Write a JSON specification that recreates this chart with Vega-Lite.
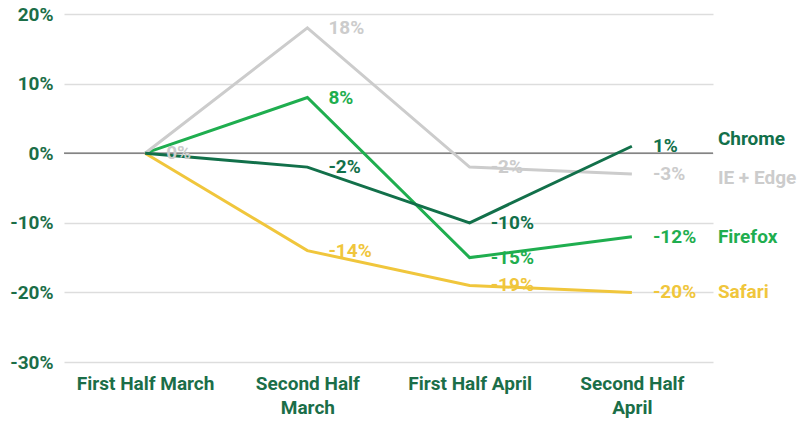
{
  "$schema": "https://vega.github.io/schema/vega-lite/v6.json",
  "width": 649,
  "height": 348,
  "autosize": "none",
  "padding": {"left": 64, "top": 14, "right": 93, "bottom": 61},
  "background": "white",
  "config": {
    "view": {"stroke": null},
    "font": "Roboto",
    "axis": {"labelFont": "Roboto", "labelFontWeight": "bold", "labelFontSize": 19, "labelColor": "#1b6e48"}
  },
  "datasets": {
    "main": [
      {"series": "Chrome", "period": "First Half March", "value": 0},
      {"series": "Chrome", "period": "Second Half March", "value": -2},
      {"series": "Chrome", "period": "First Half April", "value": -10},
      {"series": "Chrome", "period": "Second Half April", "value": 1},
      {"series": "Firefox", "period": "First Half March", "value": 0},
      {"series": "Firefox", "period": "Second Half March", "value": 8},
      {"series": "Firefox", "period": "First Half April", "value": -15},
      {"series": "Firefox", "period": "Second Half April", "value": -12},
      {"series": "IE + Edge", "period": "First Half March", "value": 0},
      {"series": "IE + Edge", "period": "Second Half March", "value": 18},
      {"series": "IE + Edge", "period": "First Half April", "value": -2},
      {"series": "IE + Edge", "period": "Second Half April", "value": -3},
      {"series": "Safari", "period": "First Half March", "value": 0},
      {"series": "Safari", "period": "Second Half March", "value": -14},
      {"series": "Safari", "period": "First Half April", "value": -19},
      {"series": "Safari", "period": "Second Half April", "value": -20}
    ],
    "names": [
      {"series": "Chrome", "period": "Second Half April", "value": 2},
      {"series": "IE + Edge", "period": "Second Half April", "value": -3.5},
      {"series": "Firefox", "period": "Second Half April", "value": -12},
      {"series": "Safari", "period": "Second Half April", "value": -20}
    ]
  },
  "encoding": {
    "x": {
      "field": "period", "type": "ordinal",
      "sort": ["First Half March", "Second Half March", "First Half April", "Second Half April"],
      "scale": {"type": "point", "padding": 0.5},
      "axis": {
        "title": null, "domain": false, "ticks": false, "grid": false, "labelAngle": 0,
        "labelPadding": 12, "labelLineHeight": 24,
        "labelExpr": "datum.value == 'Second Half March' ? ['Second Half', 'March'] : datum.value == 'Second Half April' ? ['Second Half', 'April'] : datum.value"
      }
    },
    "y": {
      "field": "value", "type": "quantitative",
      "scale": {"domain": [-30, 20], "nice": false},
      "axis": {
        "title": null, "domain": false, "ticks": false, "values": [-30, -20, -10, 0, 10, 20],
        "gridColor": "#dddddd", "gridWidth": 1.5, "labelPadding": 11,
        "labelExpr": "datum.value + '%'"
      }
    },
    "color": {
      "field": "series", "type": "nominal",
      "scale": {"domain": ["Chrome", "Firefox", "IE + Edge", "Safari"], "range": ["#12704a", "#1fae4f", "#cccccc", "#f0c63c"]},
      "legend": null
    }
  },
  "layer": [
    {
      "data": {"values": [{"z": 0}]},
      "mark": {"type": "rule", "color": "#666666", "strokeWidth": 1.2},
      "encoding": {"y": {"field": "z", "type": "quantitative"}, "x": null, "color": null}
    },
    {
      "data": {"name": "main"},
      "transform": [{"filter": "datum.series != 'Chrome'"}],
      "mark": {"type": "line", "strokeWidth": 3}
    },
    {
      "data": {"name": "main"},
      "transform": [{"filter": "datum.series == 'Chrome'"}],
      "mark": {"type": "line", "strokeWidth": 3}
    },
    {
      "data": {"name": "main"},
      "transform": [
        {"filter": "datum.period != 'First Half March' || datum.series == 'IE + Edge'"},
        {"calculate": "datum.value + '%'", "as": "label"}
      ],
      "mark": {"type": "text", "align": "left", "baseline": "middle", "dx": 21, "fontSize": 19, "fontWeight": "bold", "font": "Roboto"},
      "encoding": {"text": {"field": "label", "type": "nominal"}}
    },
    {
      "data": {"name": "names"},
      "mark": {"type": "text", "align": "left", "baseline": "middle", "dx": 86, "fontSize": 19, "fontWeight": "bold", "font": "Roboto"},
      "encoding": {"text": {"field": "series"}}
    }
  ]
}
